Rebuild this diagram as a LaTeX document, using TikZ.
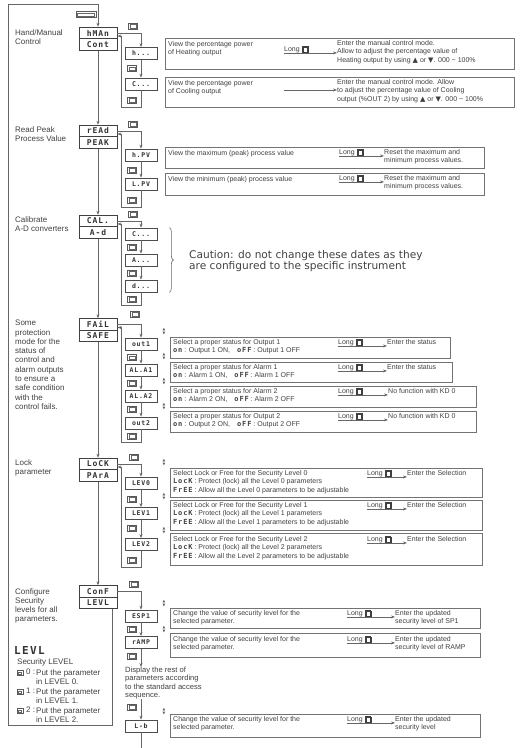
\documentclass[tikz,border=0pt]{standalone}
\usepackage{fontspec}
\setmainfont{Liberation Sans}
\newfontfamily\segfont{DejaVu Sans Mono}[LetterSpace=12]
\newfontfamily\symfont{DejaVu Sans}
\usetikzlibrary{arrows.meta,decorations.pathreplacing}

\newcommand{\keyico}{{\fboxsep=0.5pt\fboxrule=0.35pt\fbox{\fbox{\rule{0pt}{3pt}\hspace{3pt}}}}}
\newcommand{\keyup}{{\symfont ▲}}
\newcommand{\keydn}{{\symfont ▼}}
\newcommand{\seg}[1]{{\segfont\bfseries #1}}

\tikzset{
  wire/.style={draw=black!60, line width=0.6pt},
  mainbox/.style={draw=black!75, line width=0.9pt, fill=white, minimum width=38pt,
    minimum height=11.5pt, inner sep=0pt, text=black!80,
    font=\segfont\bfseries\fontsize{8}{8}\selectfont},
  colbox/.style={draw=black!70, line width=0.7pt, fill=white, minimum width=32pt,
    minimum height=12pt, inner sep=0pt, text=black!80,
    font=\segfont\bfseries\fontsize{6.5}{6.5}\selectfont},
  keybox/.style={draw=black!65, line width=0.45pt, fill=white, minimum width=9pt,
    minimum height=6pt, inner sep=0pt,
    path picture={\draw[black!60, line width=0.3pt]
      ([shift={(1.6pt,1.3pt)}]path picture bounding box.south west) rectangle
      ([shift={(-1.6pt,-1.3pt)}]path picture bounding box.north east);}},
  descbox/.style={draw=black!55, line width=0.6pt, anchor=north west, inner sep=0pt},
  desc/.style={anchor=north west, inner sep=0pt, text=black!75, align=left,
    font=\fontsize{7}{8.5}\selectfont},
  side/.style={anchor=north west, inner sep=0pt, text=black!75, align=left,
    font=\fontsize{8}{9.3}\selectfont},
  updn/.style={inner sep=0pt, align=center, text=black!65,
    font=\symfont\fontsize{3.6}{4}\selectfont},
}

\begin{document}
\begin{tikzpicture}[x=1pt,y=-1pt,>={Stealth[length=4pt,width=3pt]}]
  \useasboundingbox (0,0) rectangle (524,748);
  \coordinate (top) at (98,4);
  \coordinate (bot) at (8,725);

  \node[keybox, minimum width=20pt] (k0) at (86,14.5) {};
  \node[side] (t1) at (15,29) {Hand/Manual\\Control};
  \node[mainbox] (hman) at (98,33) {hMAn};
  \node[mainbox] (cont) at (98,44.5) {Cont};
  \node[keybox] (k1) at (133,26) {};
  \node[colbox] (h1) at (141,53.5) {h...};
  \node[keybox] (k1a) at (132,68.5) {};
  \node[colbox] (h2) at (141,84) {C...};
  \node[keybox] (k1b) at (132,100) {};
  \coordinate (rt1) at (121,107);
  \node[descbox, minimum width=349pt, minimum height=31pt] (d1) at (165,38) {};
  \node[desc] (d1a) at (168,41) {View the percentage power\\of Heating output};
  \node[desc] (lg1) at (284,46) {Long \keyico};
  \node[desc] (d1b) at (337,40) {Enter the manual control mode.\\Allow to adjust the percentage value of\\Heating output by using \keyup{} or \keydn. 000 \textasciitilde{} 100\%};
  \node[descbox, minimum width=349pt, minimum height=30pt] (d2) at (165,77) {};
  \node[desc] (d2a) at (168,80) {View the percentage power\\of Cooling output};
  \coordinate (lg2) at (284,90);
  \node[desc] (d2b) at (337,79) {Enter the manual control mode. Allow\\to adjust the percentage value of Cooling\\output (\%OUT 2) by using \keyup{} or \keydn. 000 \textasciitilde{} 100\%};

  \node[side] (t2) at (15,126) {Read Peak\\Process Value};
  \node[mainbox] (read) at (98,131) {rEAd};
  \node[mainbox] (peak) at (98,142.5) {PEAK};
  \node[keybox] (k2) at (133,124) {};
  \node[colbox] (p1) at (141,155) {h.PV};
  \node[keybox] (k2a) at (132,170) {};
  \node[colbox] (p2) at (141,184) {L.PV};
  \node[keybox] (k2b) at (132,200) {};
  \coordinate (rt2) at (121,207);
  \node[descbox, minimum width=319pt, minimum height=21pt] (d3) at (165,147) {};
  \node[desc] (d3a) at (168,150) {View the maximum (peak) process value};
  \node[desc] (lg3) at (339,149) {Long \keyico};
  \node[desc] (d3b) at (384,149) {Reset the maximum and\\minimum process values.};
  \node[descbox, minimum width=319pt, minimum height=22pt] (d4) at (165,173) {};
  \node[desc] (d4a) at (168,176) {View the minimum (peak) process value};
  \node[desc] (lg4) at (339,175) {Long \keyico};
  \node[desc] (d4b) at (384,175) {Reset the maximum and\\minimum process values.};

  \node[side] (t3) at (15,216) {Calibrate\\A-D converters};
  \node[mainbox] (cal) at (98,221) {CAL.};
  \node[mainbox] (ad) at (98,232.5) {A-d};
  \node[keybox] (k3) at (133,214) {};
  \node[colbox] (c1) at (141,234) {C...};
  \node[keybox] (k3a) at (132,247) {};
  \node[colbox] (c2) at (141,260) {A...};
  \node[keybox] (k3b) at (132,273) {};
  \node[colbox] (c3) at (141,286) {d...};
  \node[keybox] (k3c) at (132,299) {};
  \coordinate (rt3) at (121,305);
  \node[anchor=north west, inner sep=0pt, text=black!75, align=left,
    font=\symfont\fontsize{10.6}{11.5}\selectfont] (cau) at (189,250) {Caution: do not change these dates as they\\are configured to the specific instrument};

  \node[side] (t4) at (15,320) {Some\\protection\\mode for the\\status of\\control and\\alarm outputs\\to ensure a\\safe condition\\with the\\control fails.};
  \node[mainbox] (fail) at (98,324.5) {FAiL};
  \node[mainbox] (safe) at (98,336) {SAFE};
  \node[keybox] (k4) at (135,314) {};
  \node[colbox] (o1) at (141,344) {out1};
  \node[keybox] (k4a) at (132,357.5) {};
  \node[colbox] (o2) at (141,370) {AL.A1};
  \node[keybox] (k4b) at (132,383) {};
  \node[colbox] (o3) at (141,396) {AL.A2};
  \node[keybox] (k4c) at (132,409) {};
  \node[colbox] (o4) at (141,423) {out2};
  \node[keybox] (k4d) at (132,436) {};
  \coordinate (rt4) at (121,442);
  \node[updn] (u4a) at (164,332) {▲\\▼};
  \node[updn] (u4b) at (164,357) {▲\\▼};
  \node[updn] (u4c) at (164,382) {▲\\▼};
  \node[updn] (u4d) at (164,407) {▲\\▼};
  \node[descbox, minimum width=280pt, minimum height=21pt] (b1) at (170,337) {};
  \node[desc] (b1a) at (173,339) {Select a proper status for Output 1\\\seg{on} : Output 1 ON,\quad\seg{oFF} : Output 1 OFF};
  \node[desc] (lb1) at (338,339) {Long \keyico};
  \node[desc] (b1b) at (387,339) {Enter the status};
  \node[descbox, minimum width=282pt, minimum height=20pt] (b2) at (170,362) {};
  \node[desc] (b2a) at (173,364) {Select a proper status for Alarm 1\\\seg{on} : Alarm 1 ON,\quad\seg{oFF} : Alarm 1 OFF};
  \node[desc] (lb2) at (338,364) {Long \keyico};
  \node[desc] (b2b) at (387,364) {Enter the status};
  \node[descbox, minimum width=306pt, minimum height=21pt] (b3) at (170,386) {};
  \node[desc] (b3a) at (173,388) {Select a proper status for Alarm 2\\\seg{on} : Alarm 2 ON,\quad\seg{oFF} : Alarm 2 OFF};
  \node[desc] (lb3) at (338,388) {Long \keyico};
  \node[desc] (b3b) at (388,388) {No function with KD 0};
  \node[descbox, minimum width=306pt, minimum height=21pt] (b4) at (170,411) {};
  \node[desc] (b4a) at (173,413) {Select a proper status for Output 2\\\seg{on} : Output 2 ON,\quad\seg{oFF} : Output 2 OFF};
  \node[desc] (lb4) at (338,413) {Long \keyico};
  \node[desc] (b4b) at (388,413) {No function with KD 0};

  \node[side] (t5) at (15,459) {Lock\\parameter};
  \node[mainbox] (lock) at (98,464) {LoCK};
  \node[mainbox] (para) at (98,475.5) {PArA};
  \node[keybox] (k5) at (134,457) {};
  \node[colbox] (v0) at (141,483) {LEV0};
  \node[keybox] (k5a) at (132,499) {};
  \node[colbox] (v1) at (141,513.5) {LEV1};
  \node[keybox] (k5b) at (132,528) {};
  \node[colbox] (v2) at (141,544.5) {LEV2};
  \node[keybox] (k5c) at (132,560) {};
  \coordinate (rt5) at (121,567);
  \node[updn] (u5a) at (164,463) {▲\\▼};
  \node[updn] (u5b) at (164,497) {▲\\▼};
  \node[updn] (u5c) at (164,531) {▲\\▼};
  \node[descbox, minimum width=312pt, minimum height=29pt] (e0) at (170,468) {};
  \node[desc] (e0a) at (173,470) {Select Lock or Free for the Security Level 0\\\seg{LocK} : Protect (lock) all the Level 0 parameters\\\seg{FrEE} : Allow all the Level 0 parameters to be adjustable};
  \node[desc] (le0) at (367,470) {Long \keyico};
  \node[desc] (e0b) at (407,470) {Enter the Selection};
  \node[descbox, minimum width=312pt, minimum height=30pt] (e1) at (170,500) {};
  \node[desc] (e1a) at (173,502) {Select Lock or Free for the Security Level 1\\\seg{LocK} : Protect (lock) all the Level 1 parameters\\\seg{FrEE} : Allow all the Level 1 parameters to be adjustable};
  \node[desc] (le1) at (367,502) {Long \keyico};
  \node[desc] (e1b) at (407,502) {Enter the Selection};
  \node[descbox, minimum width=312pt, minimum height=32pt] (e2) at (170,533) {};
  \node[desc] (e2a) at (173,536) {Select Lock or Free for the Security Level 2\\\seg{LocK} : Protect (lock) all the Level 2 parameters\\\seg{FrEE} : Allow all the Level 2 parameters to be adjustable};
  \node[desc] (le2) at (367,536) {Long \keyico};
  \node[desc] (e2b) at (407,536) {Enter the Selection};

  \node[side] (t6) at (15,588) {Configure\\Security\\levels for all\\parameters.};
  \node[mainbox] (conf) at (98,591.5) {ConF};
  \node[mainbox] (levl) at (98,603) {LEVL};
  \node[keybox] (k6) at (134,584) {};
  \node[colbox] (s1) at (141,616) {ESP1};
  \node[keybox] (k6a) at (132,629) {};
  \node[colbox] (s2) at (141,642.5) {rAMP};
  \node[keybox] (k6b) at (132,656) {};
  \node[desc, font=\fontsize{7.6}{8.2}\selectfont] (rest) at (125,667) {Display the rest of\\parameters according\\to the standard access\\sequence.};
  \node[keybox] (k6c) at (132,707) {};
  \node[colbox] (s3) at (141,726) {L-b};
  \coordinate (s3end) at (141,748);
  \node[updn] (u6a) at (164,604) {▲\\▼};
  \node[updn] (u6b) at (164,630) {▲\\▼};
  \node[updn] (u6c) at (164,712) {▲\\▼};
  \node[descbox, minimum width=310pt, minimum height=20pt] (f1) at (170,608) {};
  \node[desc] (f1a) at (173,610) {Change the value of security level for the\\selected parameter.};
  \node[desc] (lf1) at (347,610) {Long \keyico};
  \node[desc] (f1b) at (395,610) {Enter the updated\\security level of SP1};
  \node[descbox, minimum width=310pt, minimum height=24pt] (f2) at (170,633) {};
  \node[desc] (f2a) at (173,636) {Change the value of security level for the\\selected parameter.};
  \node[desc] (lf2) at (347,636) {Long \keyico};
  \node[desc] (f2b) at (395,636) {Enter the updated\\security level of RAMP};
  \node[descbox, minimum width=310pt, minimum height=23pt] (f3) at (170,714) {};
  \node[desc] (f3a) at (173,716) {Change the value of security level for the\\selected parameter.};
  \node[desc] (lf3) at (347,716) {Long \keyico};
  \node[desc] (f3b) at (395,716) {Enter the updated\\security level};

  \node[anchor=north west, inner sep=0pt, text=black!80,
    font=\segfont\bfseries\fontsize{11}{11}\selectfont] (lvl) at (14,646) {LEVL};
  \node[side] (lvt) at (17,658) {Security LEVEL};
  \node[keybox, minimum width=6pt, minimum height=5pt] (q0) at (20,673) {};
  \node[side] (q0n) at (26,669) {0 :};
  \node[side] (q0t) at (36,669) {Put the parameter\\in LEVEL 0.};
  \node[keybox, minimum width=6pt, minimum height=5pt] (q1) at (20,692) {};
  \node[side] (q1n) at (26,688) {1 :};
  \node[side] (q1t) at (36,688) {Put the parameter\\in LEVEL 1.};
  \node[keybox, minimum width=6pt, minimum height=5pt] (q2) at (20,711) {};
  \node[side] (q2n) at (26,707) {2 :};
  \node[side] (q2t) at (36,707) {Put the parameter\\in LEVEL 2.};

  \begin{scope}[wire,->]
    \draw ([xshift=14pt]levl.south) |- (bot) |- (top) -- (hman.north);
    \draw (cont) -- (read);
    \draw (peak) -- (cal);
    \draw (ad) -- (fail);
    \draw (safe) -- (lock);
    \draw (para) -- (conf);
    \draw (hman.east) -| (h1.north);
    \draw (h1) -- (h2);
    \draw (h2.south) |- (rt1) |- ([yshift=-3pt]hman.east);
    \draw (lg1.south west) -- (lg1.south west -| d1b.west);
    \draw (lg2) -- (lg2 -| d2b.west);
    \draw (read.east) -| (p1.north);
    \draw (p1) -- (p2);
    \draw (p2.south) |- (rt2) |- ([yshift=-3pt]read.east);
    \draw (lg3.south west) -- (lg3.south west -| d3b.west);
    \draw (lg4.south west) -- (lg4.south west -| d4b.west);
    \draw (cal.east) -| (c1.north);
    \draw (c1) -- (c2);
    \draw (c2) -- (c3);
    \draw (c3.south) |- (rt3) |- ([yshift=-3pt]cal.east);
    \draw (fail.east) -| (o1.north);
    \draw (o1) -- (o2);
    \draw (o2) -- (o3);
    \draw (o3) -- (o4);
    \draw (o4.south) |- (rt4) |- ([yshift=-3pt]fail.east);
    \draw (lb1.south west) -- (lb1.south west -| b1b.west);
    \draw (lb2.south west) -- (lb2.south west -| b2b.west);
    \draw (lb3.south west) -- (lb3.south west -| b3b.west);
    \draw (lb4.south west) -- (lb4.south west -| b4b.west);
    \draw (lock.east) -| (v0.north);
    \draw (v0) -- (v1);
    \draw (v1) -- (v2);
    \draw (v2.south) |- (rt5) |- ([yshift=-3pt]lock.east);
    \draw (le0.south west) -- (le0.south west -| e0b.west);
    \draw (le1.south west) -- (le1.south west -| e1b.west);
    \draw (le2.south west) -- (le2.south west -| e2b.west);
    \draw (conf.east) -| (s1.north);
    \draw (s1) -- (s2);
    \draw (s2.south) -- (s2.south |- rest.north);
    \draw (s2.south |- rest.south) -- (s3.north);
    \draw (lf1.south west) -- (lf1.south west -| f1b.west);
    \draw (lf2.south west) -- (lf2.south west -| f2b.west);
    \draw (lf3.south west) -- (lf3.south west -| f3b.west);
  \end{scope}
  \draw[wire] (s3.south) -- (s3end);
  \draw[wire, decorate, decoration={brace, amplitude=4pt}]
    ([xshift=12pt]c1.north east) -- ([xshift=12pt]c3.south east);
\end{tikzpicture}
\end{document}
